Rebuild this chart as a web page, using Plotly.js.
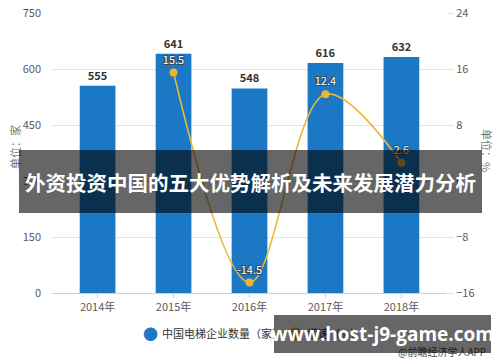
<!DOCTYPE html>
<html>
<head>
<meta charset="utf-8">
<script src="https://cdn.plot.ly/plotly-3.0.1.min.js"></script>
<style>
html,body{margin:0;padding:0;background:#fff;}
#wrap{position:relative;width:500px;height:362px;overflow:hidden;}
#chart{width:500px;height:362px;}
.banner{position:absolute;background:rgba(0,0,0,0.6);color:#fff;font-weight:bold;display:flex;align-items:center;justify-content:center;white-space:nowrap;}
#b1{left:19px;top:150px;width:463px;height:63px;font-family:"Noto Sans CJK SC","Noto Sans",sans-serif;font-size:20.5px;}
#b2{left:274px;top:315px;width:217px;height:38px;font-family:"Open Sans","DejaVu Sans",sans-serif;font-size:19px;}
</style>
</head>
<body>
<div id="wrap">
<div id="chart"></div>
<div class="banner" id="b1"></div>
<div class="banner" id="b2"></div>
</div>
<script>
const years = ["2014年", "2015年", "2016年", "2017年", "2018年"];
const companyCount = [555, 641, 548, 616, 632];
const growthRate = [null, 15.5, -14.5, 12.4, 2.6];
const leftTicks = [0, 150, 300, 450, 600, 750];
const rightTicks = [-16, -8, 0, 8, 16, 24];
const barName = "中国电梯企业数量（家）";
const lineName = "增速（%）";
const bannerTitle = "外资投资中国的五大优势解析及未来发展潜力分析";
const watermark = "www.host-j9-game.com";
const sourceText = "@前瞻经济学人APP";

document.getElementById("b1").textContent = bannerTitle;
document.getElementById("b2").textContent = watermark;

const font = '"Noto Sans CJK SC", "Noto Sans", sans-serif';
const barColor = "#1a78c4";
const lineColor = "#ebb53a";

const traces = [
  {
    type: "bar", x: years, y: companyCount, name: barName,
    marker: {color: barColor}, width: 0.47,
    text: companyCount.map(String), textposition: "outside", cliponaxis: false,
    textfont: {family: font, size: 11, color: "#333", weight: "bold"},
    showlegend: false, hoverinfo: "skip"
  },
  {
    type: "scatter", mode: "lines+markers+text", x: years, y: growthRate, yaxis: "y2",
    name: lineName, line: {color: lineColor, width: 1.6, shape: "spline", smoothing: 1},
    marker: {color: lineColor, size: 8},
    text: growthRate.map(v => v === null ? "" : String(v)), textposition: "top center",
    textfont: {family: font, size: 11, color: "#ffffff",
      shadow: "-1px -1px 0 #3a4a5a, 1px -1px 0 #3a4a5a, -1px 1px 0 #3a4a5a, 1px 1px 0 #3a4a5a"},
    cliponaxis: false, connectgaps: false, showlegend: false, hoverinfo: "skip"
  }
];

const L = 52, R = 447, T = 13, B = 293;
const px = x => (x - L) / (R - L);
const py = y => (B - y) / (B - T);
const note = (x, y, text, opts) => Object.assign({xref: "paper", yref: "paper", x: px(x), y: py(y),
  text: text, showarrow: false, xanchor: "center", yanchor: "middle"}, opts);

const layout = {
  width: 500, height: 362,
  margin: {l: 52, r: 53, t: 13, b: 69, pad: 0},
  paper_bgcolor: "#fff", plot_bgcolor: "#fff",
  font: {family: font, size: 11, color: "#595959"},
  xaxis: {
    type: "category", range: [-0.6, 4.6], showgrid: false,
    showline: true, linecolor: "#cfcfcf", linewidth: 1,
    ticks: "outside", ticklen: 4, tickcolor: "#cfcfcf",
    tickfont: {family: font, size: 11, color: "#595959"}, fixedrange: true
  },
  yaxis: {
    range: [0, 750], tickvals: leftTicks, showgrid: true, gridcolor: "#e3e3e3", gridwidth: 1,
    zeroline: false, showline: false, ticks: "", ticklabelstandoff: 10,
    tickfont: {family: font, size: 11, color: "#595959"}, fixedrange: true
  },
  yaxis2: {
    range: [-16, 24], tickvals: rightTicks, overlaying: "y", side: "right",
    showgrid: false, zeroline: false, showline: false, ticks: "outside", ticklen: 6,
    tickcolor: "#e3e3e3",
    tickfont: {family: font, size: 11, color: "#595959"}, fixedrange: true
  },
  annotations: [
    note(15, 147, "单位：家", {textangle: -90, font: {family: font, size: 11, color: "#777"}}),
    note(487, 150, "单位：%", {textangle: 90, font: {family: font, size: 11, color: "#777"}}),
    note(150, 333, "●", {font: {family: font, size: 15, color: barColor}}),
    note(160, 333, barName, {xanchor: "left", font: {family: font, size: 11, color: "#333"}}),
    note(295, 333, "●", {font: {family: font, size: 15, color: lineColor}}),
    note(305, 333, lineName, {xanchor: "left", font: {family: font, size: 11, color: "#333"}}),
    note(488, 351, sourceText, {xanchor: "right", font: {family: font, size: 10, color: "#444"}})
  ]
};

Plotly.newPlot("chart", traces, layout, {displayModeBar: false, staticPlot: true});
</script>
</body>
</html>
